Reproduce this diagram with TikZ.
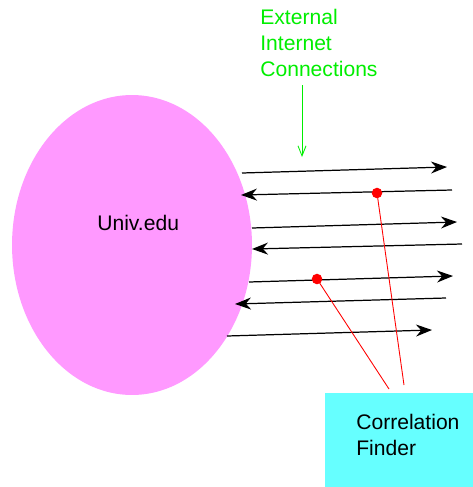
\documentclass[tikz,border=0pt]{standalone}
\usepackage{fontspec}
\setmainfont{Liberation Sans}
\usetikzlibrary{arrows.meta,shapes.geometric}
\definecolor{univpink}{HTML}{FF99FF}
\definecolor{findercyan}{HTML}{66FFFF}
\definecolor{netgreen}{HTML}{00EE00}
\definecolor{tapred}{HTML}{FF0000}
\begin{document}
\begin{tikzpicture}[
  x=0.02cm,y=-0.02cm,
  font=\fontsize{12}{14.7}\selectfont,
  lbl/.style={inner sep=0pt,align=left,anchor=west},
  univ/.style={ellipse,fill=univpink,minimum width=4.8cm,minimum height=6cm,inner sep=0pt},
  finder/.style={fill=findercyan,minimum width=2.96cm,minimum height=1.88cm,inner sep=0pt},
  tap/.style={circle,fill=tapred,minimum size=6pt,inner sep=0pt},
  flow/.style={-{Stealth[length=3.2mm,width=2.4mm]},line width=0.7pt,black},
  wire/.style={tapred,line width=0.5pt},
  hint/.style={-{Straight Barb[length=2mm,width=1.6mm]},netgreen,line width=0.5pt}]
\useasboundingbox (0,0) rectangle (473,487);
% campus network and the analysis box
\node[univ] (univ) at (132,245) {};
\node[lbl] (univlbl) at (97,223) {Univ.edu};
\node[finder] (finder) at (399,440) {};
\node[lbl] (finderlbl) at (356,435) {Correlation\\Finder};
% caption for the links
\node[lbl,text=netgreen] (extlbl) at (260,43) {External\\Internet\\Connections};
\coordinate (hintA) at (302,85);
\coordinate (hintB) at (302,157);
\draw[hint] (hintA) -- (hintB);
% links, alternating direction
\coordinate (l1a) at (242,173); \coordinate (l1b) at (447,167);
\coordinate (l2a) at (452,190); \coordinate (l2b) at (241,195);
\coordinate (l3a) at (252,228); \coordinate (l3b) at (457,222);
\coordinate (l4a) at (462,244); \coordinate (l4b) at (252,249);
\coordinate (l5a) at (249,282); \coordinate (l5b) at (453,276);
\coordinate (l6a) at (446,298); \coordinate (l6b) at (235,304);
\coordinate (l7a) at (227,336); \coordinate (l7b) at (432,330);
\draw[flow] (l1a) -- (l1b); \draw[flow] (l2a) -- (l2b);
\draw[flow] (l3a) -- (l3b); \draw[flow] (l4a) -- (l4b);
\draw[flow] (l5a) -- (l5b); \draw[flow] (l6a) -- (l6b);
\draw[flow] (l7a) -- (l7b);
% taps feeding the finder
\coordinate (wireA) at (404,385);
\coordinate (wireB) at (389,389);
\draw[wire] (377,193) -- (wireA);
\draw[wire] (317,279) -- (wireB);
\node[tap] (tapA) at (377,193) {};
\node[tap] (tapB) at (317,279) {};
\end{tikzpicture}
\end{document}
